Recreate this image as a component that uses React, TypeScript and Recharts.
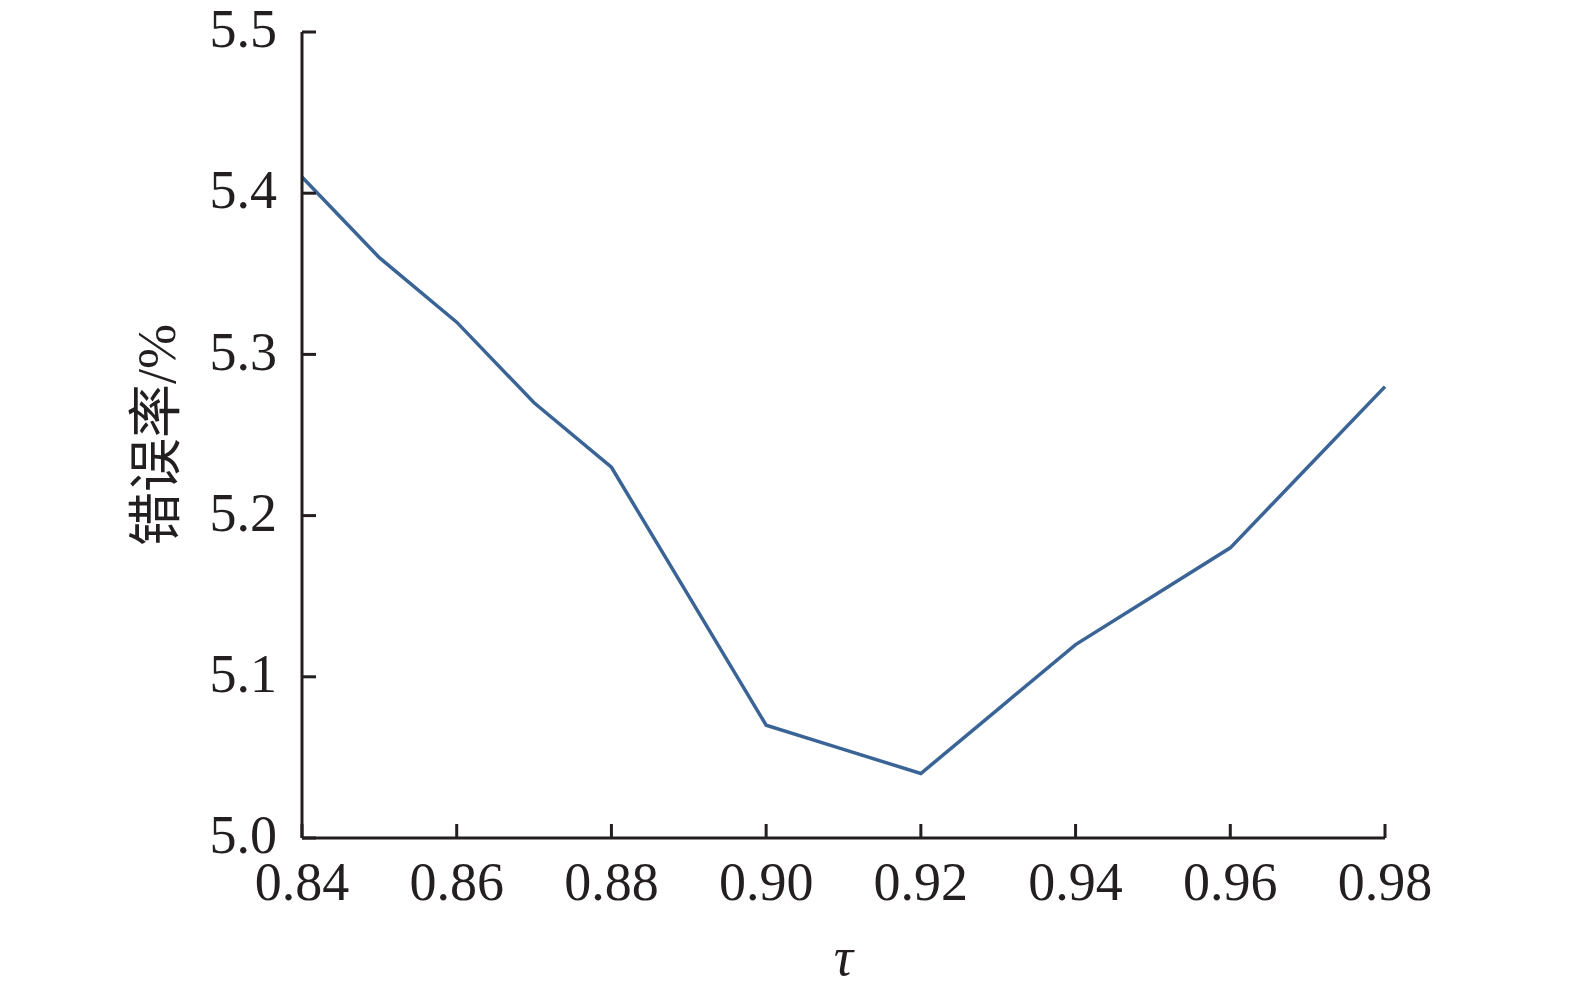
import { LineChart, Line, XAxis, YAxis, Label } from 'recharts';

const tauValues = [0.84, 0.85, 0.86, 0.87, 0.88, 0.89, 0.9, 0.91, 0.92, 0.93, 0.94, 0.95, 0.96, 0.97, 0.98];
const errorRates = [5.41, 5.36, 5.32, 5.27, 5.23, 5.15, 5.07, 5.055, 5.04, 5.08, 5.12, 5.15, 5.18, 5.23, 5.28];

const xTicks = [0.84, 0.86, 0.88, 0.9, 0.92, 0.94, 0.96, 0.98];
const yTicks = [5.0, 5.1, 5.2, 5.3, 5.4, 5.5];

const ink = '#231f20';
const serif = '"Liberation Serif", "Times New Roman", "Noto Sans CJK SC", serif';

const chartData = tauValues.map((tau, i) => ({ tau, rate: errorRates[i] }));

export default function App() {
  return (
    <div style={{ width: 1575, height: 989, background: '#fff' }}>
      <style>{'body{margin:0}'}</style>
      <LineChart
        width={1575}
        height={989}
        data={chartData}
        margin={{ top: 32, right: 190, bottom: 0, left: 172 }}
      >
        <XAxis
          dataKey="tau"
          type="number"
          domain={[0.84, 0.98]}
          ticks={xTicks}
          tickFormatter={(v: number) => v.toFixed(2)}
          height={151}
          tickSize={-14}
          tickMargin={38}
          axisLine={{ stroke: ink, strokeWidth: 3 }}
          tickLine={{ stroke: ink, strokeWidth: 3 }}
          tick={{ fill: ink, fontSize: 54, fontFamily: serif }}
          interval={0}
        >
          <Label
            value="τ"
            position="center"
            dy={42}
            style={{ fill: ink, fontSize: 54, fontFamily: serif, fontStyle: 'italic' }}
          />
        </XAxis>
        <YAxis
          type="number"
          domain={[5.0, 5.5]}
          ticks={yTicks}
          tickFormatter={(v: number) => v.toFixed(1)}
          width={130}
          tickSize={-14}
          tickMargin={39}
          axisLine={{ stroke: ink, strokeWidth: 3 }}
          tickLine={{ stroke: ink, strokeWidth: 3 }}
          tick={{ fill: ink, fontSize: 54, fontFamily: serif, dy: -4 }}
          interval={0}
        >
          <Label
            value="错误率/%"
            angle={-90}
            position="center"
            dx={-81}
            style={{ fill: ink, fontSize: 54, fontFamily: serif }}
          />
        </YAxis>
        <Line
          type="linear"
          dataKey="rate"
          stroke="#3b6496"
          strokeWidth={3.5}
          dot={false}
          isAnimationActive={false}
        />
      </LineChart>
    </div>
  );
}
